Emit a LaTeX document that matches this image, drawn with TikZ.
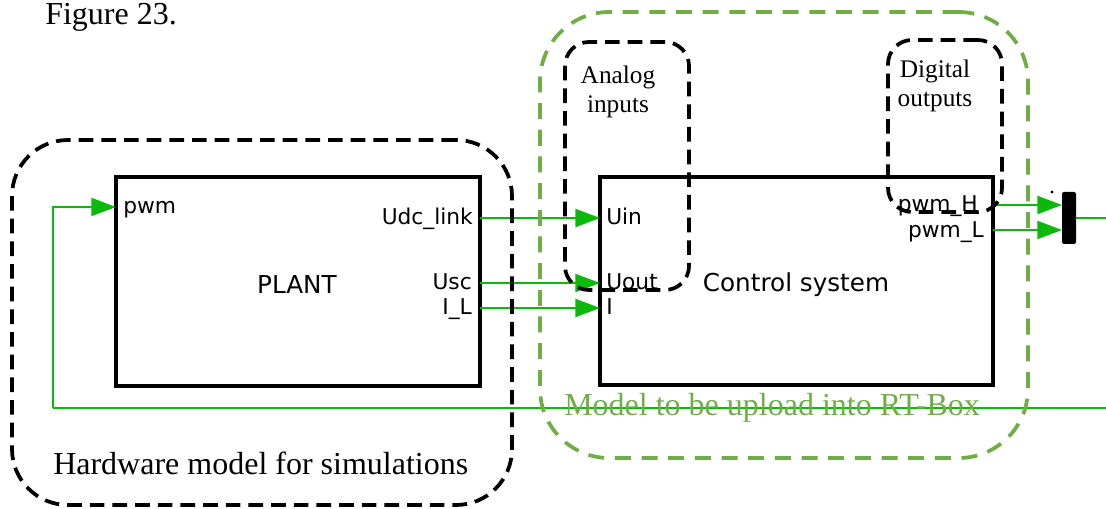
\documentclass[tikz,border=0pt]{standalone}
\usepackage{fontspec}
\setmainfont{Liberation Serif}
\newfontfamily\blkfont{DejaVu Sans}
\usetikzlibrary{arrows.meta}
\definecolor{sigGreen}{RGB}{10,185,10}
\definecolor{zoneGreen}{RGB}{112,173,71}
\tikzset{
  blk/.style={draw=black, line width=3pt, fill=white, inner sep=0pt},
  wire/.style={draw=sigGreen, line width=1.6pt},
  sig/.style={wire, -{Triangle[length=18.5pt,width=13.5pt]}},
  grp/.style={draw=black, line width=2.8pt, dash pattern=on 11pt off 6pt, inner sep=0pt},
  zone/.style={draw=zoneGreen, line width=2.8pt, dash pattern=on 12pt off 8pt, inner sep=0pt},
  port/.style={font=\blkfont\fontsize{16.3}{19}\selectfont, inner sep=0pt},
  title/.style={font=\blkfont\fontsize{18.5}{21}\selectfont, inner sep=0pt},
  note/.style={font=\fontsize{19}{21.5}\selectfont, align=center, inner sep=0pt},
  caption/.style={font=\fontsize{24}{28}\selectfont, inner sep=0pt}
}
\begin{document}
\begin{tikzpicture}[x=0.75pt, y=-0.75pt]
\useasboundingbox (0,0) rectangle (1106,509);

\node[caption, anchor=base west] (fig) at (45,25) {Figure 23.};

% main blocks
\node[blk, minimum width=273pt, minimum height=156.75pt] (plant) at (298,281.5) {};
\node[title] (plantlbl) at (297,285) {PLANT};
\node[blk, minimum width=294.75pt, minimum height=156pt] (ctrl) at (796.5,281) {};
\node[title] (ctrllbl) at (796,285) {Control system};
\node[fill=black, rounded corners=1.5pt, minimum width=10.5pt, minimum height=39pt, inner sep=0pt] (mux) at (1069,218) {};
\node[fill=black, circle, inner sep=0pt, minimum size=2.5pt] (muxdot) at (1052,192) {};

% port points
\coordinate (pPwm) at (116,207);
\coordinate (pUdc) at (480,218);
\coordinate (pUsc) at (480,283);
\coordinate (pIL)  at (480,308);
\coordinate (cUin) at (600,218);
\coordinate (cUout) at (600,283);
\coordinate (cI)   at (600,308);
\coordinate (cH)   at (993,205);
\coordinate (cL)   at (993,230);
\coordinate (mH)   at (1062,205);
\coordinate (mL)   at (1062,230);
\coordinate (mOut) at (1076,218);
\coordinate (outEnd) at (1106,218);
\coordinate (fbEnd) at (1106,408);
\coordinate (fbCorner) at (53,408);

% port labels
\node[port, anchor=base west] (lPwm) at (123,214) {pwm};
\node[port, anchor=base east] (lUdc) at (473,225) {Udc\_link};
\node[port, anchor=base east] (lUsc) at (472,290) {Usc};
\node[port, anchor=base east] (lIL)  at (472,315) {I\_L};
\node[port, anchor=base west] (lUin) at (606,225) {Uin};
\node[port, anchor=base west] (lUout) at (606,290) {Uout};
\node[port, anchor=base west] (lI)   at (606,315) {I};
\node[port, anchor=base east] (lH)   at (978,212) {pwm\_H};
\node[port, anchor=base east] (lL)   at (984,238) {pwm\_L};

% signals
\draw[sig] (pUdc) -- (cUin);
\draw[sig] (pUsc) -- (cUout);
\draw[sig] (pIL) -- (cI);
\draw[sig] (cH) -- (mH);
\draw[sig] (cL) -- (mL);
\draw[wire] (mOut) -- (outEnd);
\draw[wire] (fbEnd) -- (fbCorner);
\draw[sig] (fbCorner) |- (pPwm);

% grouping outlines
\node[grp, rounded corners=42pt, minimum width=375pt, minimum height=273.75pt] (hw) at (262,322.5) {};
\node[zone, rounded corners=52pt, minimum width=366pt, minimum height=334.5pt] (rt) at (784,235) {};
\node[grp, rounded corners=18pt, minimum width=93pt, minimum height=186pt] (ain) at (627,166) {};
\node[grp, rounded corners=18pt, minimum width=85.5pt, minimum height=129pt] (dout) at (945,126) {};

% group captions
\node[note] (ainlbl) at (618,92) {Analog\\inputs};
\node[note] (doutlbl) at (935,86) {Digital\\outputs};
\node[caption, anchor=base west] (hwlbl) at (53,474) {Hardware model for simulations};
\node[caption, anchor=base west, text=zoneGreen] (rtlbl) at (564,415) {Model to be upload into RT-Box};
\end{tikzpicture}
\end{document}
